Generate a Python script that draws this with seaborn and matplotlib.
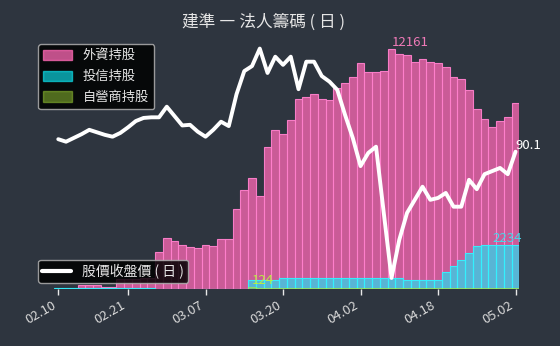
import matplotlib
matplotlib.use("Agg")
import matplotlib.pyplot as plt
import seaborn as sns
import numpy as np
import pandas as pd

# ---------------- data ----------------
tick_pos = [0, 9, 19, 29, 39, 49, 59]
tick_labels = ["02.10", "02.21", "03.07", "03.20", "04.02", "04.18", "05.02"]

foreign = [0, 0, 0, 220, 220, 230, 120, 130, 520, 540,
           540, 550, 560, 1888, 2596, 2444, 2257, 2125, 2090, 2242,
           2216, 2530, 2530, 4063, 5025, 5632, 4721, 7200, 8061, 7858,
           8567, 9630, 9756, 9883, 9614, 9604, 10172, 10455, 10758, 11437,
           10980, 11011, 11046, 12161, 11907, 11856, 11517, 11644, 11517, 11477,
           11249, 10758, 10641, 10085, 9123, 8617, 8228, 8531, 8703, 9442]

trust = [90, 90, 90, 80, 80, 80, 80, 80, 80, 80,
         80, 80, 80, 0, 0, 0, 0, 0, 0, 0,
         0, 0, 0, 0, 0, 490, 490, 490, 490, 557,
         557, 557, 557, 587, 587, 587, 587, 587, 587, 587,
         587, 587, 587, 587, 587, 470, 470, 470, 470, 470,
         860, 1180, 1483, 1852, 2190, 2220, 2234, 2234, 2234, 2234]

dealer = [10, 10, 10, 10, 10, 10, 10, 10, 10, 10,
          10, 10, 10, 30, 30, 30, 30, 30, 30, 30,
          30, 30, 30, 30, 30, 124, 80, 80, 80, 80,
          80, 80, 80, 80, 80, 80, 80, 80, 80, 80,
          80, 80, 80, 80, 80, 60, 60, 60, 60, 60,
          60, 60, 60, 60, 60, 60, 60, 60, 60, 60]

price = [92.1, 91.7, 92.3, 92.9, 93.6, 93.2, 92.8, 92.5, 93.1, 94.0,
         95.0, 95.5, 95.6, 95.6, 97.3, 95.8, 94.3, 94.4, 93.3, 92.5,
         93.6, 94.9, 94.2, 99.3, 103.0, 103.8, 106.6, 102.7, 105.3, 104.0,
         105.3, 100.1, 104.5, 104.5, 102.2, 101.3, 100.0, 96.0, 92.3, 87.8,
         89.9, 90.9, 80.3, 69.9, 76.0, 80.3, 82.4, 84.5, 82.4, 82.7,
         83.5, 81.3, 81.3, 85.6, 84.1, 86.5, 87.0, 87.5, 86.5, 90.1]

title = "建準 ― 法人籌碼 ( 日 )"
series_labels = ["外資持股", "投信持股", "自營商持股"]
line_label = "股價收盤價 ( 日 )"

# ---------------- style ----------------
BG = "#2e353f"
sns.set_style("dark", {"axes.facecolor": BG, "figure.facecolor": BG})
plt.rcParams["font.family"] = ["Noto Sans CJK TC", "DejaVu Sans"]
plt.rcParams["axes.unicode_minus"] = False

fig = plt.figure(figsize=(5.6, 3.46), dpi=100)
fig.patch.set_facecolor(BG)
ax = fig.add_axes([54.4 / 560, 1 - 289.3 / 346, 465 / 560, (289.3 - 35) / 346])
ax.set_facecolor(BG)

n = len(foreign)
idx = list(range(n))
df = pd.DataFrame({"i": idx, "foreign": foreign, "trust": trust,
                   "dealer": dealer, "price": price})

pink_face = (1.0, 0.41, 0.71, 0.75)
pink_edge = (1.0, 0.50, 0.80, 0.95)
cyan_face = (0.05, 0.95, 1.0, 0.6)
cyan_edge = (0.2, 0.95, 1.0, 0.95)
green_face = (0.60, 0.80, 0.20, 0.5)
green_edge = (0.68, 1.0, 0.18, 0.6)

sns.barplot(data=df, x="i", y="foreign", ax=ax, width=1.0, saturation=1,
            color="hotpink", edgecolor=pink_edge, linewidth=0.8, errorbar=None)
for p in ax.patches:
    p.set_facecolor(pink_face)
npink = len(ax.patches)
sns.barplot(data=df, x="i", y="trust", ax=ax, width=1.0, saturation=1,
            color="cyan", edgecolor=cyan_edge, linewidth=0.8, errorbar=None)
for p in ax.patches[npink:]:
    p.set_facecolor(cyan_face)
ncy = len(ax.patches)
sns.barplot(data=df, x="i", y="dealer", ax=ax, width=1.0, saturation=1,
            color="yellowgreen", edgecolor=green_edge, linewidth=0.6, errorbar=None)
for p in ax.patches[ncy:]:
    p.set_facecolor(green_face)

ax.set_xlim(-0.5, n - 0.5)
ymax_val = max(foreign)
ax.set_ylim(0, ymax_val * (289.3 - 35) / (289.3 - 49))
ax.set_xlabel("")
ax.set_ylabel("")
ax.set_yticks([])
ax.set_xticks(tick_pos)
ax.set_xticklabels(tick_labels, rotation=30, ha="right", fontsize=9.5, color="#d8d8d8")
ax.tick_params(axis="x", colors="#e8e8e8", length=4, width=1, direction="out",
               labelcolor="#d8d8d8", pad=3)
ax.tick_params(axis="x", bottom=True)
for s in ax.spines.values():
    s.set_visible(False)
ax.grid(False)

# annotations of max values
imf = int(np.argmax(foreign))
ax.text(imf, foreign[imf], str(foreign[imf]), color="#f07ab8", fontsize=9.5,
        ha="left", va="bottom")
imt = int(np.argmax(trust))
ax.text(imt, trust[imt], str(trust[imt]), color="#45d8e8", fontsize=9.5,
        ha="left", va="bottom")
imd = int(np.argmax(dealer))
ax.text(imd, dealer[imd], str(dealer[imd]), color="#b8f040", fontsize=9.5,
        ha="left", va="bottom")

# price line on twin axis
ax2 = ax.twinx()
sns.lineplot(data=df, x="i", y="price", ax=ax2, color="white", linewidth=2.8)
scale = 0.16
ax2.set_ylim(price[-1] - scale * (289.3 - 151.7), price[-1] + scale * (151.7 - 35))
ax2.set_xlim(-0.5, n - 0.5)
ax2.set_yticks([])
ax2.set_ylabel("")
ax2.set_xlabel("")
for s in ax2.spines.values():
    s.set_visible(False)
ax2.grid(False)
ax2.text(n - 1, price[-1], f"{price[-1]}", color="white", fontsize=9.5,
         ha="left", va="bottom")

# legends
from matplotlib.patches import Patch
from matplotlib.lines import Line2D
h1 = [Patch(facecolor=pink_face, edgecolor=pink_face),
      Patch(facecolor=cyan_face, edgecolor=cyan_face),
      Patch(facecolor=green_face, edgecolor=green_face)]
leg1 = ax2.legend(h1, series_labels, loc="upper left",
                  bbox_to_anchor=(38 / 560, 1 - 44 / 346), bbox_transform=fig.transFigure,
                  borderaxespad=0, fontsize=9.5, facecolor="black", edgecolor="#b0b0b0",
                  framealpha=0.85, labelcolor="#e6e6e6", handlelength=2.2,
                  handleheight=0.8, handletextpad=0.8, labelspacing=0.6,
                  borderpad=0.4, fancybox=True)
ax2.add_artist(leg1)
h2 = [Line2D([0], [0], color="white", linewidth=3)]
leg2 = ax2.legend(h2, [line_label], loc="lower left",
                  bbox_to_anchor=(38 / 560, 1 - 283 / 346), bbox_transform=fig.transFigure,
                  borderaxespad=0, fontsize=10, facecolor="black", edgecolor="#b0b0b0",
                  framealpha=0.85, labelcolor="#e6e6e6", handlelength=2.1,
                  handletextpad=0.8, borderpad=0.3, fancybox=True)

fig.text(264 / 560, 1 - 22 / 346, title, ha="center", va="center", fontsize=12,
         color="#e6e6e6")

fig.savefig("out.png", dpi=100, facecolor=BG)
